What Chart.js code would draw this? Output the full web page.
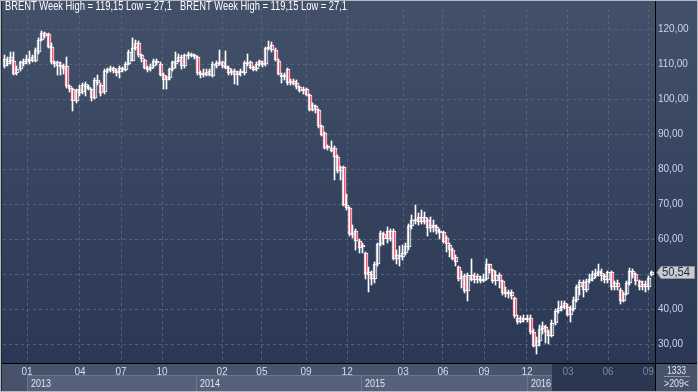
<!DOCTYPE html>
<html>
<head>
<meta charset="utf-8">
<script src="https://cdn.jsdelivr.net/npm/chart.js@4/dist/chart.umd.min.js"></script>
<style>
  html, body { margin: 0; padding: 0; background: #3a4660; }
  #chart { display: block; }
</style>
</head>
<body>
<canvas id="chart" width="698" height="392"></canvas>
<script>
'use strict';

// weekly BRENT candles
var opens = [
  109.5,110,111,111,107.5,108.5,110,110.5,111.5,111,
  111,113.5,117,119,118.5,115,110.5,110.5,109.5,109.5,
  109.5,103.7,102.8,99.5,102.8,102,103.5,103.5,102.8,100.2,
  105.5,104,102,108,108.3,109,108,107.8,109,108.3,
  110,111,114.5,116,112.5,111.3,109,108.5,109.5,110.8,
  110,107,105.5,106,108.5,110,111,112,109.5,112.3,
  113,112.5,112,107.5,107,107.8,107,106.7,109.5,110,
  110.5,109.5,109,107.5,108,107,107.5,107.5,110,110.5,
  109.3,108.5,110.8,109.8,110,114.3,115.5,114,111,107,
  106.5,108.6,104.9,105.3,104.5,103.4,102.2,103,101.1,97,
  98,97,92.2,90.3,86.6,86.2,86,83.4,79.6,80.5,
  69.8,68.9,61.4,62.3,59.5,58.5,56.2,49.8,50.2,48.8,
  53,58.6,61.4,62.3,60,62.4,54.5,55.5,55,56,
  57.7,63.8,65.5,66.3,64.8,66.5,65.6,63.2,64,63.5,
  62.5,62,60.3,58.5,57,55,52.1,48.8,49.5,45.2,
  49.8,48.4,49.5,48.3,48.8,48.6,52.8,51.2,48,49.8,
  48,44.6,45,45,43.2,37.6,36.3,37.5,37,37.6,
  33.4,29.5,31,34.5,35,33.5,32.5,36.2,39.5,40.5,
  41.8,40.8,38.5,40,42.7,46.5,47.8,45.5,48,48.8,
  49.5,50.3,50.5,49.5,48.3,50.8,46.5,47.5,45.5,42.5,
  44.5,47.4,51,50.2,48,46.5,47.2,46.3,49.8
];
var highs = [
  112.5,112,113.5,113.5,109.5,111,111.5,112.5,113.7,112.5,
  114.5,117.5,119.5,119.3,119,116,111,111,110.5,110,
  112,104,103.3,103,104,104.5,105,104,103,106,
  107,104.5,108.5,109,109.5,109.3,108.5,109.5,109.3,110.5,
  114,117.5,117,116.5,113,111.5,109.5,110,111.5,111.5,
  110.5,107.5,106.5,109,111,113.5,113,112.5,113,113.5,
  113.3,113,112.3,108,108.5,108.5,108.5,110.5,111,114,
  111,113.8,109.5,108.5,108.5,108,108.5,110.8,112.8,111,
  109.5,110.5,111.2,111,115,116.6,116.3,114.5,111.5,107.5,
  107.5,109,105.8,105.8,105.5,103.8,103.5,103.3,101.5,98.8,
  98.3,97.3,92.5,90.6,87,88,86.5,84,81,81,
  73,69.3,64,63,60,59,56.5,52,51,53.5,
  59,62.5,62,63.5,63,63,57,58,58.5,59,
  64.5,67,69.9,67.5,68.5,67.8,66,66.5,65.5,64,
  63,62.5,61,59,57.5,55.5,52.5,51,50,50.5,
  54.5,50.5,50,49.5,50,54.5,53,51.5,51,50.5,
  48.5,46.5,45.5,45.5,43.5,38.5,38,38.3,38.3,38.5,
  34.5,32,35.5,36.5,35.5,34,37,40,42.3,42.5,
  42.5,41.5,41,43.5,47,48.5,48.3,48.8,50,51,
  51.5,53,51.5,50,51,51,48,48.5,46,45,
  48,51.8,51.5,50.5,48.5,48,48,49.5,51
];
var lows = [
  109,109.5,110,106.8,107,108,109.5,110,110,110.5,
  110.5,113,116.5,117.5,114.5,110,109.3,107,107,107.3,
  103.3,102,96.7,99,101,101.5,101,102.5,99.5,100,
  104,101,101.5,107.5,107.8,107.5,106.5,106,107.8,108,
  109.8,110.8,114,112,110.5,108.5,107.8,108,109,109.8,
  106.5,103,103,105.5,108,109,110.5,108.5,109,111.5,
  112,111.5,107,106,106.3,106.5,106.5,106.3,109,109.8,
  109,108.5,107,107,104.3,104,106.5,107,109.5,108.5,
  108,108,109.5,109.3,109.5,114,113.5,111,107,104.5,
  105.5,104,104,104,103,102,101.5,100.8,96.5,96.5,
  96,91.8,89.5,85.8,85.5,84.8,77,79,76.8,69.5,
  68.5,61,60.5,57,56,56,48.8,45,47,47.5,
  52.5,58,58.5,59,59.5,54,53,52.5,54,55.5,
  57,63,64.5,64,64.5,64.3,61,62,62,61.5,
  60,59,56.5,55,54,52.5,48,46,44.8,42.3,
  48,47.5,47.5,47.5,47.8,48.3,50.5,47.5,47,46,
  44,43.5,43.2,43,37.5,35.8,36,36.3,36.5,33,
  29.3,27.3,29.5,33,30.5,30,32,35.5,39,39.5,
  40,38,36.5,39.5,42,44,43.5,45,47.5,48,
  49,49.5,48,47.5,47.5,45.5,45.5,45.5,41.5,42,
  44,47,49,47,45.5,45.5,45,45.5,49.5
];
var closes = [
  111.5,111,112,107.3,108.5,110.5,111,111.5,110.8,112,
  114,117,119,118,115,110.5,110,109.5,109.8,108.5,
  103.7,102.8,99.5,102.5,101.8,104,104.3,103,100.2,105.5,
  104.5,101.8,108,108.5,109,108,107.5,109,108.2,110,
  113.5,114.5,116,112.5,111.5,109,108.2,109.3,111,110.2,
  107,105.5,106.2,108.6,110.5,111,112,109.5,112.5,113,
  112.5,112,107.5,107,107.5,107,108,110,110.3,110.5,
  109.5,109,107.5,108,107,107.5,108,110.3,110.5,109,
  108.4,110,110,110.3,114.5,115,114,111.3,107.3,106.5,
  107,104.7,105.3,104.4,103.4,102.2,103,101.1,97,98.3,
  97,92.2,89.9,86.2,86.2,85.2,83.5,79.6,80.5,69.8,
  68.9,61.4,61.9,59.5,57.6,57.8,50.2,50.6,48.8,53,
  58.6,61.9,60,60,62.3,54.5,55.5,54.8,56,58,
  63.8,65.6,65.8,64.8,66.5,64.8,63.3,64,63.5,62.3,
  62,59.3,58.6,56.8,54.4,53.6,48.8,49.5,45.2,49.8,
  48.4,49.5,48.3,48.8,48.6,52.8,51.2,48,49.8,48,
  44.6,45,44.5,43.7,38,36.3,37.5,37,37.6,33.4,
  29.5,31,34.5,35.2,33.5,32.5,36.2,39.5,40.5,41,
  40.8,38.5,40,42.7,46.5,47.8,45.5,48,48.8,50,
  50.3,51,49.5,48.3,50.8,46.5,47.5,46.4,42.5,44.5,
  47.4,51,50.2,48,46.5,47.2,46.3,49,50.54
];

// month ticks (position in weeks) and the year bands below them
var tickPos  = [7.1, 24.1, 37.3, 50.5, 69.8, 82.6, 96.8, 110, 128, 140.8, 154, 167.8, 181, 193.9, 206.8];
var tickText = ['01','04','07','10','02','05','09','12','03','06','09','12','03','06','09'];
var yearStart = [7.1, 61.4, 114.5, 167.8];
var yearText  = ['2013', '2014', '2015', '2016'];
var shadeFrom = 175.9;
var priceTicks = [30, 40, 50, 60, 70, 80, 90, 100, 110, 120];

var FONT = '"Liberation Sans", Arial, sans-serif';

var wicks = highs.map(function (h, i) { return { x: i, y: [lows[i], h] }; });
var bodies = closes.map(function (c, i) { return { x: i, y: [opens[i], c] }; });
var bodyFill = closes.map(function (c, i) { return c < opens[i] ? '#ee0530' : '#34405b'; });

// narrow text: squeeze horizontally to a given width
function narrowText(ctx, s, x, y, w, align) {
  var m = ctx.measureText(s).width;
  var k = Math.min(1, w / m);
  ctx.save();
  ctx.textAlign = 'left';
  var x0 = align === 'center' ? x - m * k / 2 : x;
  ctx.translate(x0, y);
  ctx.scale(k, 1);
  ctx.fillText(s, 0, 0);
  ctx.restore();
}

// keep the thin candles on whole pixels so they stay crisp
var snap = {
  id: 'snap',
  beforeDatasetsDraw: function (chart) {
    chart.data.datasets.forEach(function (d, k) {
      chart.getDatasetMeta(k).data.forEach(function (el) {
        var px = Math.round(el.x);
        el.x = k === 0 ? px - 0.5 : px;
        el.y = Math.round(el.y);
        el.base = Math.round(el.base);
        if (Math.abs(el.base - el.y) < 2) el.base = el.y + 2;
      });
    });
  }
};

var frame = {
  id: 'frame',
  beforeDraw: function (chart) {
    var ctx = chart.ctx, a = chart.chartArea, x = chart.scales.x;
    var W = chart.width, H = chart.height;
    ctx.save();
    var g = ctx.createLinearGradient(0, 0, 0, a.bottom);
    g.addColorStop(0, '#425069');
    g.addColorStop(1, '#2b3855');
    ctx.fillStyle = g;
    ctx.fillRect(0, 0, W, a.bottom);
    ctx.fillStyle = '#47536b';
    ctx.fillRect(0, a.bottom, W, H - a.bottom);

    // year bands
    ctx.font = '11px ' + FONT;
    ctx.textBaseline = 'middle';
    for (var k = 0; k < yearStart.length; k++) {
      var x0 = Math.round(x.getPixelForValue(yearStart[k]));
      var x1 = Math.round(x.getPixelForValue(k + 1 < yearStart.length ? yearStart[k + 1] : shadeFrom));
      ctx.fillStyle = '#55617a';
      ctx.fillRect(x0, 376, x1 - x0, 15);
      ctx.strokeStyle = '#6b7690';
      ctx.lineWidth = 1;
      ctx.strokeRect(x0 + 0.5, 375.5, x1 - x0, 16);
      ctx.fillStyle = '#dfe6f2';
      narrowText(ctx, yearText[k], x0 + 4, 384, 20);
    }
    // shaded future part of the axis
    var xs = Math.round(x.getPixelForValue(shadeFrom));
    ctx.fillStyle = '#2b3650';
    ctx.fillRect(xs, a.bottom + 1, a.right - xs, H - a.bottom - 2);
    ctx.restore();
  },
  afterDraw: function (chart) {
    var ctx = chart.ctx, a = chart.chartArea, y = chart.scales.y;
    var W = chart.width, H = chart.height;
    ctx.save();
    // header
    ctx.font = '12px ' + FONT;
    ctx.textBaseline = 'middle';
    ctx.fillStyle = '#ffffff';
    narrowText(ctx, 'BRENT Week High = 119,15 Low = 27,1', 5, 7, 167);
    narrowText(ctx, 'BRENT Week High = 119,15 Low = 27,1', 180, 7, 167);

    // axis separators
    ctx.strokeStyle = '#000000';
    ctx.lineWidth = 1;
    ctx.beginPath();
    ctx.moveTo(0, a.bottom + 0.5); ctx.lineTo(W, a.bottom + 0.5);
    ctx.moveTo(a.right + 0.5, 0); ctx.lineTo(a.right + 0.5, H);
    ctx.stroke();

    // last price marker
    var last = closes[closes.length - 1];
    var py = Math.round(y.getPixelForValue(last));
    ctx.fillStyle = '#c9cbcf';
    ctx.strokeStyle = '#8e939c';
    ctx.beginPath();
    ctx.moveTo(a.right + 2, py + 0.5);
    ctx.lineTo(a.right + 6, py - 5.5);
    ctx.lineTo(W - 3.5, py - 5.5);
    ctx.lineTo(W - 3.5, py + 6.5);
    ctx.lineTo(a.right + 6, py + 6.5);
    ctx.closePath();
    ctx.fill();
    ctx.stroke();
    ctx.font = '12px ' + FONT;
    ctx.fillStyle = '#1d2a44';
    narrowText(ctx, last.toFixed(2).replace('.', ','), a.right + 7, py + 1, 28);

    // bar count box
    ctx.fillStyle = '#47536b';
    ctx.fillRect(a.right + 1, a.bottom + 1, W - a.right - 2, H - a.bottom - 2);
    ctx.fillStyle = '#dfe6f2';
    ctx.font = '11px ' + FONT;
    narrowText(ctx, '1333', (a.right + W) / 2, 371, 19, 'center');
    narrowText(ctx, '>209<', (a.right + W) / 2, 384, 25, 'center');
    ctx.strokeStyle = '#8d98ae';
    ctx.beginPath();
    ctx.moveTo(a.right + 9, 376.5); ctx.lineTo(W - 8, 376.5);
    ctx.stroke();

    // outer frame
    ctx.strokeStyle = '#b3b8c1';
    ctx.strokeRect(0.5, 0.5, W - 1, H - 1);
    ctx.strokeStyle = '#1e232c';
    ctx.beginPath();
    ctx.moveTo(1.5, 1); ctx.lineTo(1.5, H - 1);
    ctx.stroke();
    ctx.restore();
  }
};

var ctx = document.getElementById('chart').getContext('2d');
var chart = new Chart(ctx, {
  type: 'bar',
  data: {
    datasets: [{
      label: 'wick',
      data: wicks,
      grouped: false,
      barThickness: 1,
      backgroundColor: '#ffffff',
      borderWidth: 0
    }, {
      label: 'body',
      data: bodies,
      grouped: false,
      barThickness: 4,
      backgroundColor: bodyFill,
      borderColor: '#ffffff',
      borderWidth: 1,
      borderSkipped: false
    }]
  },
  options: {
    responsive: false,
    animation: false,
    events: [],
    layout: { padding: { top: 2, left: 3, right: 0, bottom: 0 } },
    plugins: { legend: { display: false }, tooltip: { enabled: false } },
    scales: {
      x: {
        type: 'linear',
        min: -0.64,
        max: 208.97,
        offset: false,
        grid: { offset: false, color: '#56627d', drawTicks: false },
        border: { display: false, dash: [3, 3] },
        ticks: {
          autoSkip: false,
          maxRotation: 0,
          padding: 3,
          font: { family: FONT, size: 10 },
          color: function (c) { return c.tick && c.tick.value > shadeFrom ? '#7b879e' : '#d4ddee'; },
          callback: function (v, i) { return tickText[i]; }
        },
        afterBuildTicks: function (s) { s.ticks = tickPos.map(function (v) { return { value: v }; }); },
        afterFit: function (s) { s.height = 29; }
      },
      y: {
        position: 'right',
        min: 24.68,
        max: 125.74,
        grid: { color: '#56627d', drawTicks: false },
        border: { display: false, dash: [3, 3] },
        ticks: {
          padding: 3,
          font: { family: FONT, size: 10 },
          color: '#c6d5f0',
          callback: function (v) { return v.toFixed(2).replace('.', ','); }
        },
        afterBuildTicks: function (s) { s.ticks = priceTicks.map(function (v) { return { value: v }; }); },
        afterFit: function (s) { s.width = 43; }
      }
    }
  },
  plugins: [snap, frame]
});
</script>
</body>
</html>
